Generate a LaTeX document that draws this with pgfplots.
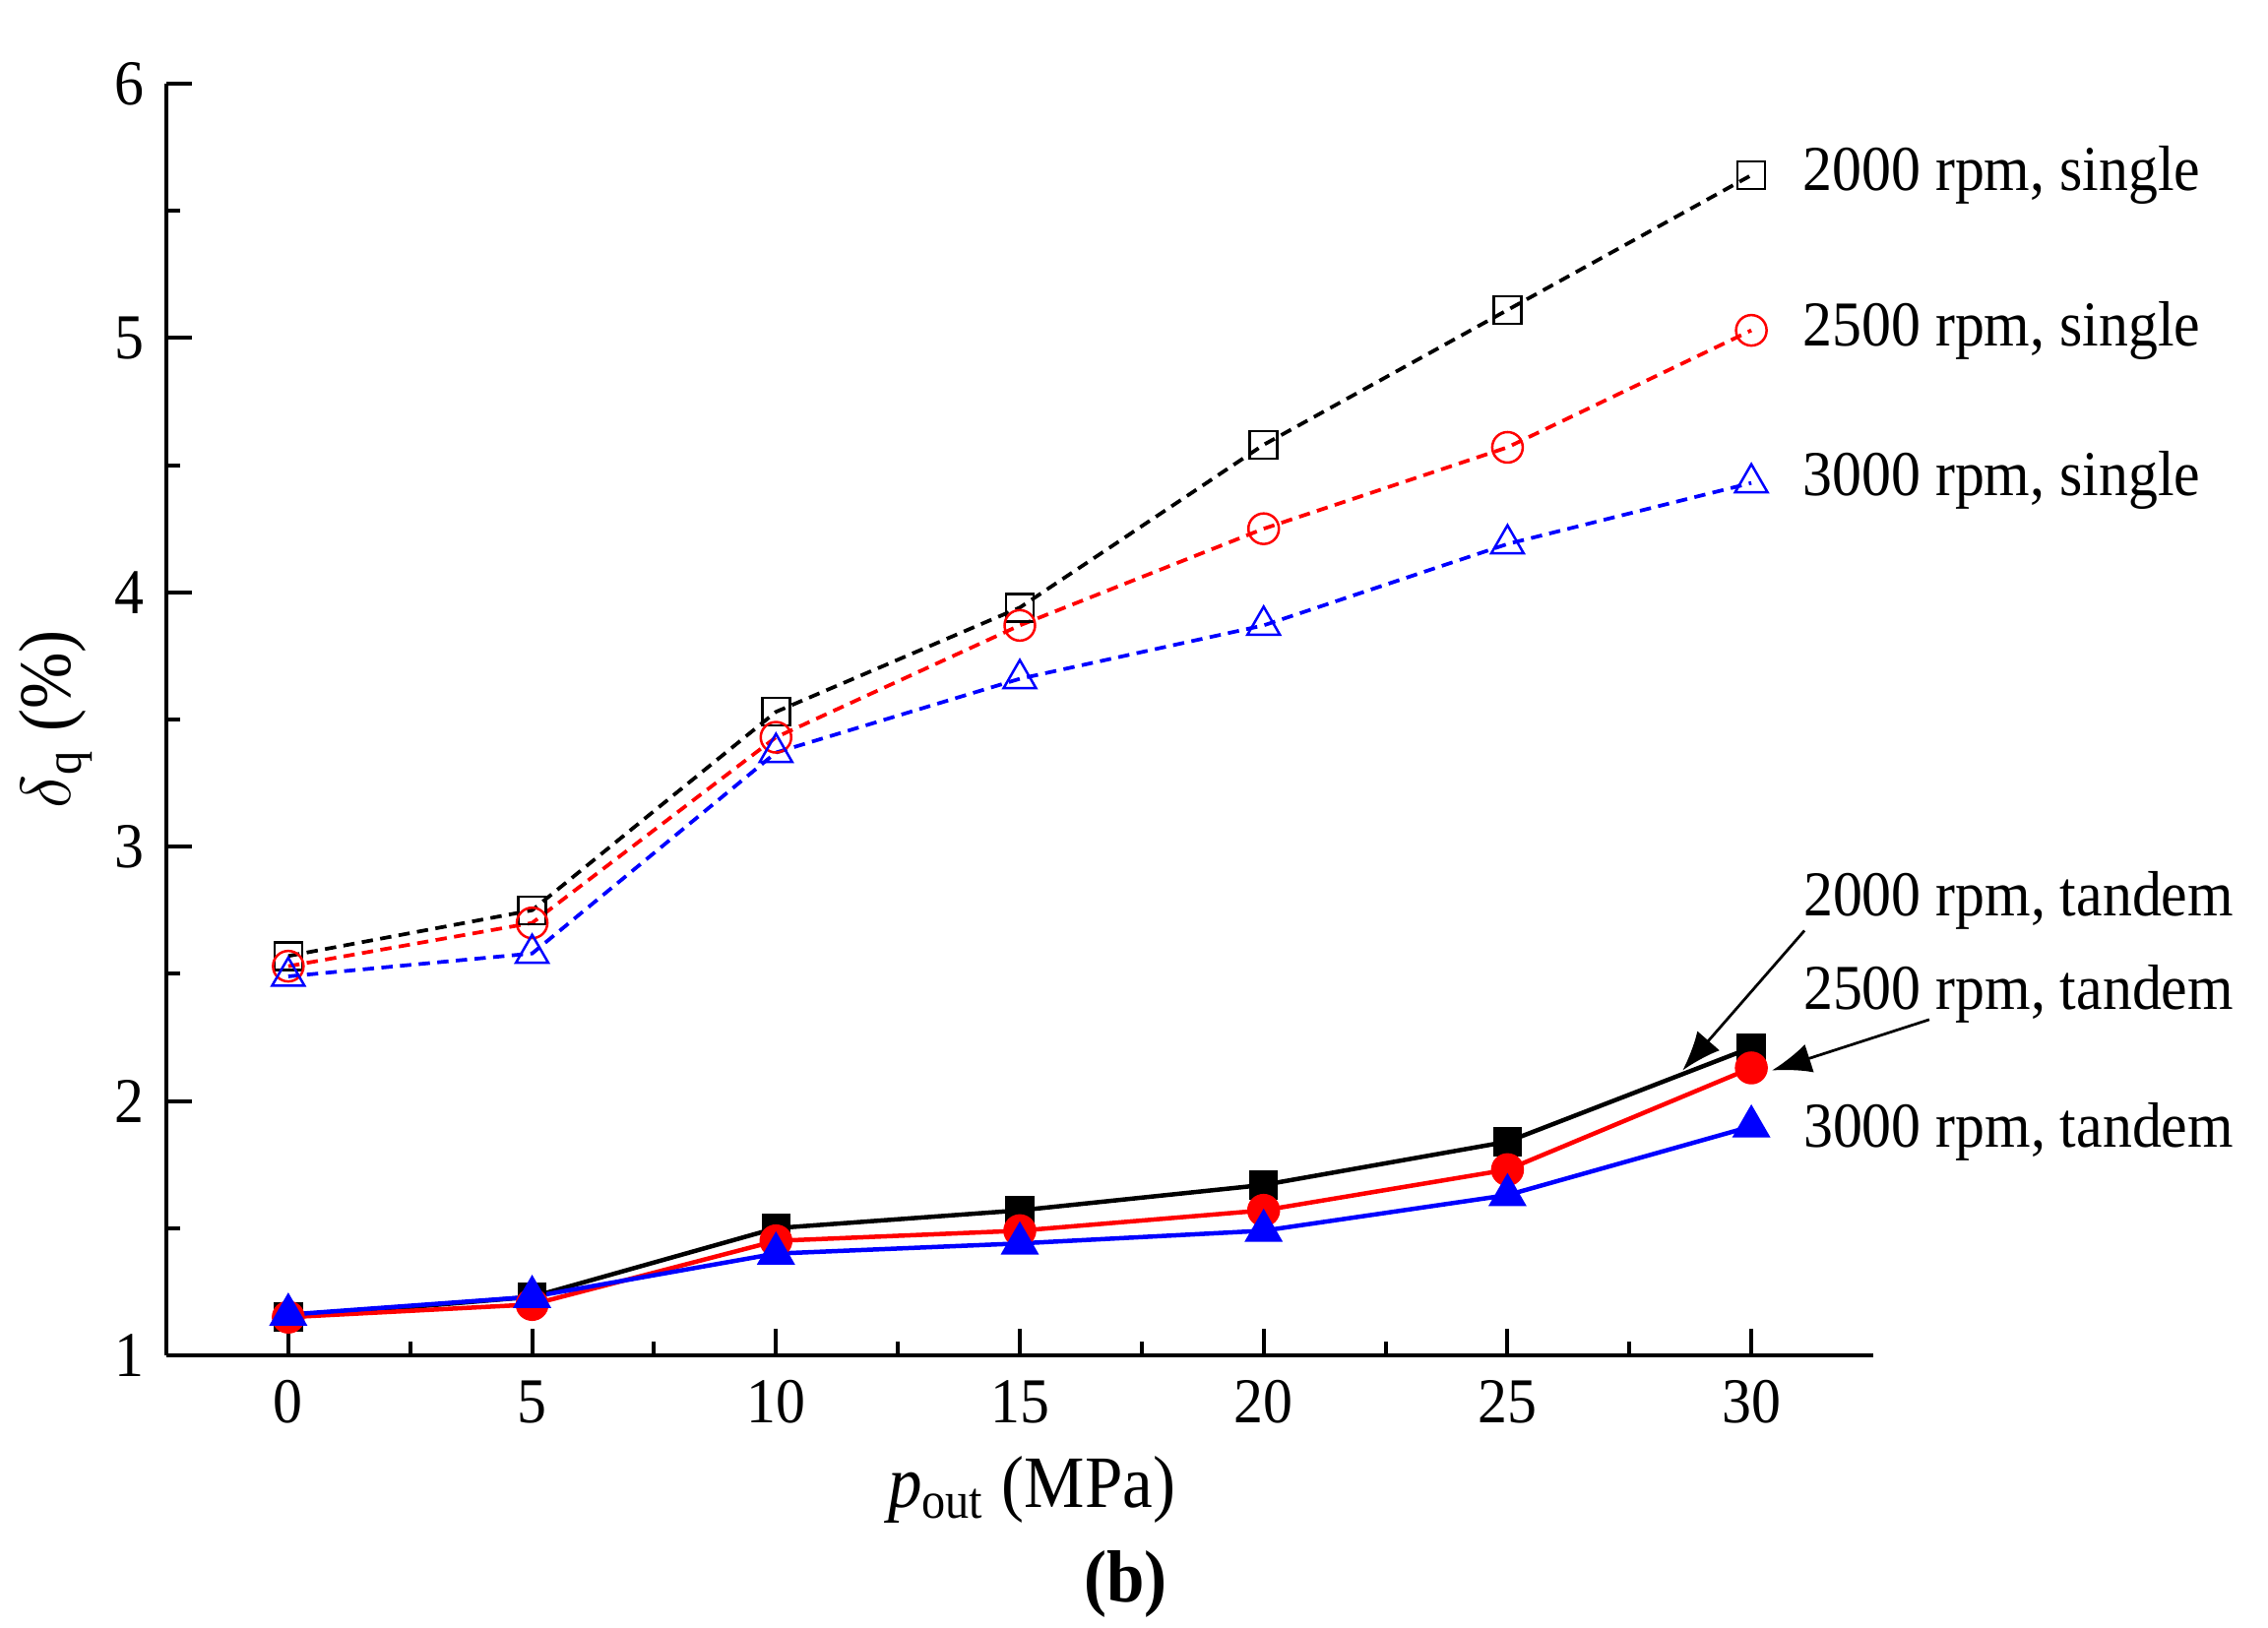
\documentclass[border=0pt]{standalone}
\usepackage{pgfplots}
\pgfplotsset{compat=1.18}
\usepackage{fontspec}
\setmainfont[FakeStretch=0.92]{Liberation Serif}
\usetikzlibrary{arrows.meta}
\begin{document}%
\begin{tikzpicture}[font=\fontsize{13pt}{15pt}\selectfont]
\useasboundingbox (0,0) rectangle (460.8pt,330.8pt);
\begin{axis}[
  at={(33.8pt,55.4pt)}, anchor=south west,
  width=346.8pt, height=258.4pt, scale only axis,
  xmin=-2.5, xmax=32.5, ymin=1, ymax=6,
  axis lines*=left, axis line style={line width=0.9pt, -},
  xtick={0,5,...,30}, ytick={1,2,...,6},
  minor x tick num=1, minor y tick num=1,
  tick align=inside,
  major tick length=5.3pt, minor tick length=2.8pt,
  every tick/.style={black, line width=0.8pt},
  tick label style={font=\fontsize{13pt}{15pt}\selectfont},
  /pgf/number format/assume math mode=true,
  xticklabel style={yshift=-1.6pt},
  yticklabel style={xshift=-1pt},
  xlabel={\textit{p}\textsubscript{out} (MPa)},
  ylabel={$\delta$\textsubscript{q} (\%)},
  label style={font=\fontsize{15pt}{17pt}\selectfont},
  xlabel style={at={(axis description cs:0.507,0)}, anchor=north, yshift=-17pt},
  ylabel style={at={(axis description cs:-0.065,0.5)}, anchor=center},
  clip=false,
]
% single (dashed, open markers)
\addplot[black, line width=0.75pt, dash pattern=on 2.3pt off 1.5pt, mark=square, mark size=2.8pt, mark options={solid, line width=0.5pt}]
 coordinates {(0,2.57) (5,2.75) (10,3.53) (15,3.94) (20,4.58) (25,5.11) (30,5.64)};
\addplot[red, line width=0.75pt, dash pattern=on 2.3pt off 1.5pt, mark=o, mark size=3.1pt, mark options={solid, line width=0.5pt}]
 coordinates {(0,2.53) (5,2.70) (10,3.43) (15,3.87) (20,4.25) (25,4.57) (30,5.03)};
\addplot[blue, line width=0.75pt, dash pattern=on 2.3pt off 1.5pt, mark=triangle, mark size=3.8pt, mark options={solid, line width=0.5pt}]
 coordinates {(0,2.49) (5,2.58) (10,3.37) (15,3.66) (20,3.87) (25,4.19) (30,4.43)};
% tandem (solid, filled markers)
\addplot[black, line width=0.9pt, mark=square*, mark size=2.5pt, mark options={solid}]
 coordinates {(0,1.15) (5,1.23) (10,1.50) (15,1.57) (20,1.67) (25,1.84) (30,2.21)};
\addplot[red, line width=0.9pt, mark=*, mark size=2.9pt, mark options={solid}]
 coordinates {(0,1.15) (5,1.20) (10,1.45) (15,1.49) (20,1.57) (25,1.73) (30,2.13)};
\addplot[blue, line width=0.9pt, mark=triangle*, mark size=3.6pt, mark options={solid}]
 coordinates {(0,1.16) (5,1.23) (10,1.40) (15,1.44) (20,1.49) (25,1.63) (30,1.90)};
% labels
\node[anchor=west, inner sep=0pt, xshift=10.3pt] at (axis cs:30,5.64) {2000 rpm, single};
\node[anchor=west, inner sep=0pt, xshift=10.3pt] at (axis cs:30,5.03) {2500 rpm, single};
\node[anchor=west, inner sep=0pt, xshift=10.3pt] at (axis cs:30,4.44) {3000 rpm, single};
\node[anchor=west, inner sep=0pt] at (axis cs:31.05,2.79) {2000 rpm, tandem};
\node[anchor=west, inner sep=0pt] at (axis cs:31.05,2.42) {2500 rpm, tandem};
\node[anchor=west, inner sep=0pt] at (axis cs:31.05,1.88) {3000 rpm, tandem};
\draw[-{Latex[length=8pt,width=6pt]}, line width=0.55pt] (axis cs:31.09,2.67) -- (axis cs:28.59,2.12);
\draw[-{Latex[length=8pt,width=6pt]}, line width=0.55pt] (axis cs:33.65,2.32) -- (axis cs:30.42,2.12);
\end{axis}
\node[font=\fontsize{15pt}{17pt}\selectfont\bfseries] at (228.7pt,9pt) {(b)};
\end{tikzpicture}%
\end{document}
